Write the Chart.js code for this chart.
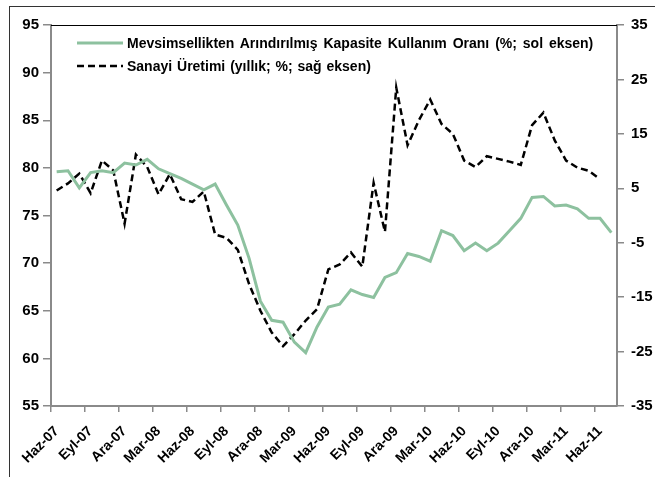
<!DOCTYPE html>
<html>
<head>
<meta charset="utf-8">
<script src="https://cdn.jsdelivr.net/npm/chart.js@4/dist/chart.umd.min.js"></script>
<style>
  html, body { margin: 0; padding: 0; background: #fff; }
  #wrap { position: relative; width: 655px; height: 477px; }
  #frame { position: absolute; left: 9px; top: 6px; right: -5px; bottom: -5px; border-left: 1.5px solid #333; border-top: 1.5px solid #333; pointer-events: none; }
  #legend { position: absolute; left: 77px; top: 31px; font-family: "Liberation Sans", Arial, sans-serif; font-weight: bold; font-size: 14px; color: #000; }
  .item { display: flex; align-items: center; height: 23px; white-space: nowrap; }
  .item svg { margin-right: 4px; }
</style>
</head>
<body>
<div id="wrap">
  <canvas id="c" width="655" height="477"></canvas>
  <div id="frame"></div>
  <div id="legend"></div>
</div>
<script>
// Monthly categories: Haz-07 ... Tem-11
const categories = [
  'Haz-07','Tem-07','Ağu-07','Eyl-07','Eki-07','Kas-07','Ara-07',
  'Oca-08','Şub-08','Mar-08','Nis-08','May-08','Haz-08','Tem-08','Ağu-08','Eyl-08','Eki-08','Kas-08','Ara-08',
  'Oca-09','Şub-09','Mar-09','Nis-09','May-09','Haz-09','Tem-09','Ağu-09','Eyl-09','Eki-09','Kas-09','Ara-09',
  'Oca-10','Şub-10','Mar-10','Nis-10','May-10','Haz-10','Tem-10','Ağu-10','Eyl-10','Eki-10','Kas-10','Ara-10',
  'Oca-11','Şub-11','Mar-11','Nis-11','May-11','Haz-11','Tem-11'
];
const tickLabels = ['Haz-07','Eyl-07','Ara-07','Mar-08','Haz-08','Eyl-08','Ara-08','Mar-09','Haz-09',
  'Eyl-09','Ara-09','Mar-10','Haz-10','Eyl-10','Ara-10','Mar-11','Haz-11'];

// Capacity utilisation, seasonally adjusted (%; left axis)
const kapasite = [
  79.6, 79.7, 77.9, 79.5, 79.7, 79.5, 80.5,
  80.3, 80.9, 79.9, 79.4, 78.9, 78.3, 77.7, 78.3, 76.1, 74.0, 70.5, 66.0,
  64.0, 63.8, 61.7, 60.6, 63.3, 65.4, 65.7, 67.2, 66.7, 66.4, 68.5, 69.0,
  71.0, 70.7, 70.2, 73.4, 72.9, 71.3, 72.1, 71.3, 72.1, 73.4, 74.7, 76.9,
  77.0, 76.0, 76.1, 75.7, 74.7, 74.7, 73.2
];
// Industrial production (annual %; right axis)
const sanayi = [
  4.6, 5.9, 7.7, 4.1, 10.1, 8.3, -1.5,
  11.2, 8.9, 3.9, 7.6, 3.0, 2.5, 4.4, -3.5, -4.1, -6.3, -12.6, -17.5,
  -21.5, -24.0, -21.8, -19.3, -17.2, -9.9, -9.0, -6.8, -9.4, 6.0, -3.0, 23.5,
  12.9, 17.5, 21.3, 16.8, 15.0, 10.1, 8.9, 10.9, 10.4, 9.9, 9.3, 16.6,
  18.9, 13.8, 10.1, 8.8, 8.2, 6.7, null
];
const seriesNames = [
  'Mevsimsellikten Arındırılmış Kapasite Kullanım Oranı (%; sol eksen)',
  'Sanayi Üretimi (yıllık; %; sağ eksen)'
];

const GREEN = '#8dc19f';
const AXIS = '#8a8a8a';
const FAMILY = '"Liberation Sans", Arial, sans-serif';
const FONT = { family: FAMILY, weight: 'bold', size: 14 };
const YFONT = { family: FAMILY, weight: 'bold', size: 15 };

const topLine = {
  id: 'topLine',
  afterDraw(chart) {
    const { ctx, chartArea } = chart;
    ctx.save();
    ctx.strokeStyle = '#000';
    ctx.lineWidth = 1;
    ctx.beginPath();
    ctx.moveTo(chartArea.left, chartArea.top + 0.5);
    ctx.lineTo(chartArea.right, chartArea.top + 0.5);
    ctx.stroke();
    ctx.restore();
  }
};

const chart = new Chart(document.getElementById('c'), {
  type: 'line',
  data: {
    labels: categories,
    datasets: [
      { label: seriesNames[0], data: kapasite, yAxisID: 'y', borderColor: GREEN, borderWidth: 3,
        pointRadius: 0, tension: 0, fill: false },
      { label: seriesNames[1], data: sanayi, yAxisID: 'y1', borderColor: '#000', borderWidth: 2.5,
        borderDash: [7, 4], pointRadius: 0, tension: 0, fill: false, spanGaps: false }
    ]
  },
  options: {
    responsive: false,
    animation: false,
    layout: { padding: { top: 25, left: 0, right: 0, bottom: 0 } },
    plugins: { legend: { display: false }, tooltip: { enabled: false } },
    scales: {
      x: {
        type: 'category',
        offset: true,
        afterFit(s) { s.height = 71; },
        grid: {
          offset: true, drawOnChartArea: false, drawTicks: true, tickLength: 6, lineWidth: 1.5,
          color: (ctx) => (ctx.index % 3 === 0 ? AXIS : 'rgba(0,0,0,0)')
        },
        border: { display: true, color: AXIS, width: 2 },
        ticks: {
          autoSkip: false, maxRotation: 45, minRotation: 45, padding: 11, color: '#000', font: FONT,
          callback: (v, i) => (tickLabels.includes(categories[i]) ? categories[i] : '')
        }
      },
      y: {
        position: 'left', min: 55, max: 95,
        afterFit(s) { s.width = 51; },
        grid: { drawOnChartArea: false, tickLength: 8, color: AXIS, lineWidth: 1.5 },
        border: { display: true, color: AXIS, width: 2 },
        ticks: { stepSize: 5, padding: 4, color: '#000', font: YFONT }
      },
      y1: {
        position: 'right', min: -35, max: 35,
        afterFit(s) { s.width = 38; },
        grid: { drawOnChartArea: false, tickLength: 7, color: AXIS, lineWidth: 1.5 },
        border: { display: true, color: AXIS, width: 2 },
        ticks: { stepSize: 10, padding: 7, color: '#000', font: YFONT }
      }
    }
  },
  plugins: [topLine]
});

// HTML legend built from the datasets
const leg = document.getElementById('legend');
chart.data.datasets.forEach((ds, k) => {
  const row = document.createElement('div');
  row.className = 'item';
  const dash = ds.borderDash ? `stroke-dasharray="${ds.borderDash.join(',')}"` : '';
  row.innerHTML = `<svg width="46" height="6"><line x1="0" y1="3" x2="46" y2="3" stroke="${ds.borderColor}" stroke-width="${ds.borderWidth}" ${dash}/></svg><span style="word-spacing:${k === 0 ? 2 : 1}px">${ds.label}</span>`;
  leg.appendChild(row);
});
</script>
</body>
</html>
